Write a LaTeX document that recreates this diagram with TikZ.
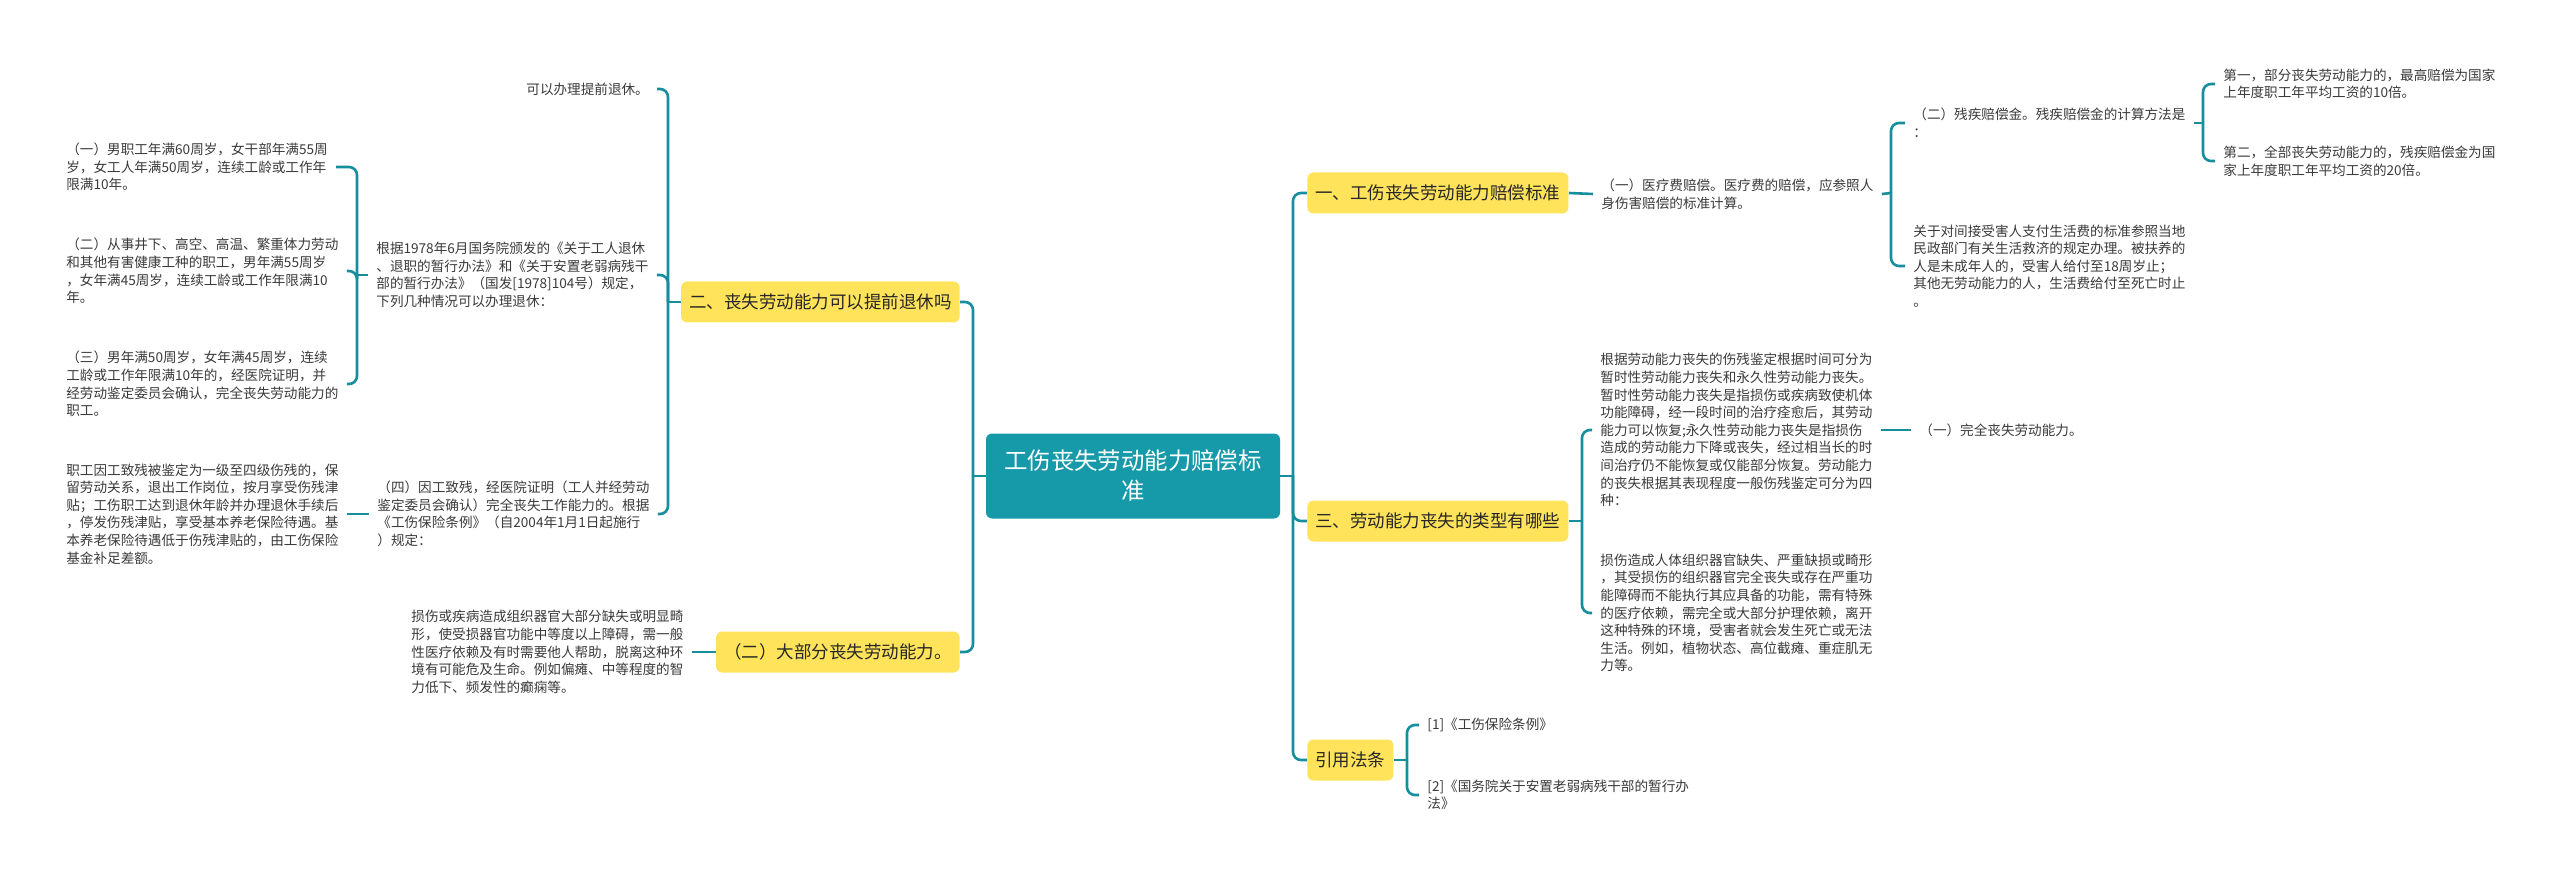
\documentclass[tikz,border=0pt]{standalone}
\usepackage{fontspec}
\setmainfont{Noto Sans CJK SC}
\definecolor{cfill}{HTML}{169AAA}
\definecolor{linec}{HTML}{178E9E}
\definecolor{yel}{HTML}{FFE35A}
\definecolor{txt}{HTML}{3A3A3A}
\begin{document}
\begin{tikzpicture}[x=0.5pt,y=-0.5pt,
  conn/.style={draw=linec, line width=1.3pt, rounded corners=4pt},
  leaf/.style={inner xsep=4pt, inner ysep=1pt, align=left, text=txt, font=\fontsize{6.8pt}{8.8pt}\selectfont},
  topic/.style={fill=yel, rounded corners=3pt, text=black!85, font=\fontsize{8.75pt}{10pt}\selectfont, minimum height=20.5pt, inner xsep=4pt, inner ysep=0pt},
  central/.style={fill=cfill, rounded corners=3pt, text=white, align=center, minimum width=147pt, minimum height=42.5pt, font=\fontsize{11.7pt}{15pt}\selectfont}]
\useasboundingbox (0,0) rectangle (2560,877);
\fill[white] (0,0) rectangle (2560,877);

% central
\node[central] (c) at (1133,476) {工伤丧失劳动能力赔偿标\\准};

% topics
\node[topic, anchor=west] (b1) at (1307,193) {一、工伤丧失劳动能力赔偿标准};
\node[topic, anchor=west] (b3) at (1307,521) {三、劳动能力丧失的类型有哪些};
\node[topic, anchor=west] (b4) at (1307,760) {引用法条};
\node[topic, anchor=east] (b2) at (960,302) {二、丧失劳动能力可以提前退休吗};
\node[topic, anchor=east] (b5) at (960,652) {（二）大部分丧失劳动能力。};

% junctions
\coordinate (jR) at (1293,476);
\coordinate (jL) at (973,476);
\coordinate (j2) at (668,302);
\coordinate (j22) at (357,275);
\coordinate (j1) at (1891,193);
\coordinate (j11) at (2203,123);
\coordinate (j3) at (1582,521);
\coordinate (j4) at (1407,760);

% right side leaves
\node[leaf, anchor=west] (t1) at (1593,194) {（一）医疗费赔偿。医疗费的赔偿，应参照人\\身伤害赔偿的标准计算。};
\node[leaf, anchor=west] (t11) at (1905,123) {（二）残疾赔偿金。残疾赔偿金的计算方法是\\：};
\node[leaf, anchor=west] (t12) at (1905,266) {关于对间接受害人支付生活费的标准参照当地\\民政部门有关生活救济的规定办理。被扶养的\\人是未成年人的，受害人给付至18周岁止；\\其他无劳动能力的人，生活费给付至死亡时止\\。};
\node[leaf, anchor=west] (t111) at (2215,84) {第一，部分丧失劳动能力的，最高赔偿为国家\\上年度职工年平均工资的10倍。};
\node[leaf, anchor=west] (t112) at (2215,161) {第二，全部丧失劳动能力的，残疾赔偿金为国\\家上年度职工年平均工资的20倍。};

\node[leaf, anchor=west] (t31) at (1592,430) {根据劳动能力丧失的伤残鉴定根据时间可分为\\暂时性劳动能力丧失和永久性劳动能力丧失。\\暂时性劳动能力丧失是指损伤或疾病致使机体\\功能障碍，经一段时间的治疗痊愈后，其劳动\\能力可以恢复;永久性劳动能力丧失是指损伤\\造成的劳动能力下降或丧失，经过相当长的时\\间治疗仍不能恢复或仅能部分恢复。劳动能力\\的丧失根据其表现程度一般伤残鉴定可分为四\\种：};
\node[leaf, anchor=west] (t311) at (1911,430) {（一）完全丧失劳动能力。};
\node[leaf, anchor=west] (t32) at (1592,613) {损伤造成人体组织器官缺失、严重缺损或畸形\\，其受损伤的组织器官完全丧失或存在严重功\\能障碍而不能执行其应具备的功能，需有特殊\\的医疗依赖，需完全或大部分护理依赖，离开\\这种特殊的环境，受害者就会发生死亡或无法\\生活。例如，植物状态、高位截瘫、重症肌无\\力等。};

\node[leaf, anchor=west] (t41) at (1419,725) {[1]《工伤保险条例》};
\node[leaf, anchor=west] (t42) at (1419,795) {[2]《国务院关于安置老弱病残干部的暂行办\\法》};

% left side leaves
\node[leaf, anchor=west] (t21) at (518,89) {可以办理提前退休。};
\node[leaf, anchor=west] (t22) at (368,275) {根据1978年6月国务院颁发的《关于工人退休\\、退职的暂行办法》和《关于安置老弱病残干\\部的暂行办法》（国发[1978]104号）规定，\\下列几种情况可以办理退休：};
\node[leaf, anchor=west] (t23) at (369,514) {（四）因工致残，经医院证明（工人并经劳动\\鉴定委员会确认）完全丧失工作能力的。根据\\《工伤保险条例》（自2004年1月1日起施行\\）规定：};
\node[leaf, anchor=west] (t221) at (58,167) {（一）男职工年满60周岁，女干部年满55周\\岁，女工人年满50周岁，连续工龄或工作年\\限满10年。};
\node[leaf, anchor=west] (t222) at (58,271) {（二）从事井下、高空、高温、繁重体力劳动\\和其他有害健康工种的职工，男年满55周岁\\，女年满45周岁，连续工龄或工作年限满10\\年。};
\node[leaf, anchor=west] (t223) at (58,384) {（三）男年满50周岁，女年满45周岁，连续\\工龄或工作年限满10年的，经医院证明，并\\经劳动鉴定委员会确认，完全丧失劳动能力的\\职工。};
\node[leaf, anchor=west] (t231) at (58,514) {职工因工致残被鉴定为一级至四级伤残的，保\\留劳动关系，退出工作岗位，按月享受伤残津\\贴；工伤职工达到退休年龄并办理退休手续后\\，停发伤残津贴，享受基本养老保险待遇。基\\本养老保险待遇低于伤残津贴的，由工伤保险\\基金补足差额。};
\node[leaf, anchor=west] (t51) at (403,652) {损伤或疾病造成组织器官大部分缺失或明显畸\\形，使受损器官功能中等度以上障碍，需一般\\性医疗依赖及有时需要他人帮助，脱离这种环\\境有可能危及生命。例如偏瘫、中等程度的智\\力低下、频发性的癫痫等。};

% connectors: central
\draw[conn] (c.east) -- (jR);
\draw[conn] (jR) |- (b1.west);
\draw[conn] (jR) |- (b3.west);
\draw[conn] (jR) |- (b4.west);
\draw[conn] (c.west) -- (jL);
\draw[conn] (jL) |- (b2.east);
\draw[conn] (jL) |- (b5.east);

% branch 1
\draw[conn] (b1.east) -- (t1.west);
\draw[conn] (t1.east) -- (j1);
\draw[conn] (j1) |- (t11.west);
\draw[conn] (j1) |- (t12.west);
\draw[conn] (t11.east) -- (j11);
\draw[conn] (j11) |- (t111.west);
\draw[conn] (j11) |- (t112.west);

% branch 3
\draw[conn] (b3.east) -- (j3);
\draw[conn] (j3) |- (t31.west);
\draw[conn] (j3) |- (t32.west);
\draw[conn] (t31.east) -- (t311.west);

% branch 4
\draw[conn] (b4.east) -- (j4);
\draw[conn] (j4) |- (t41.west);
\draw[conn] (j4) |- (t42.west);

% branch 2
\draw[conn] (b2.west) -- (j2);
\draw[conn] (j2) |- (t21.east);
\draw[conn] (j2) |- (t22.east);
\draw[conn] (j2) |- (t23.east);
\draw[conn] (t22.west) -- (j22);
\draw[conn] (j22) |- (t221.east);
\draw[conn] (j22) |- (t222.east);
\draw[conn] (j22) |- (t223.east);
\draw[conn] (t23.west) -- (t231.east);

% branch 5
\draw[conn] (b5.west) -- (t51.east);
\end{tikzpicture}
\end{document}
